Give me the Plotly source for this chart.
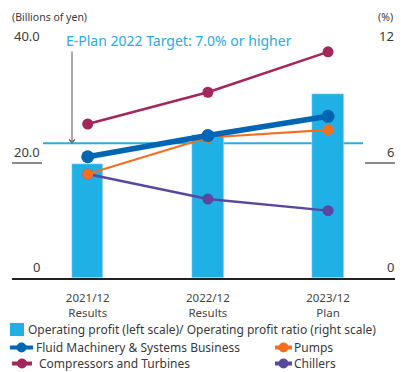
import plotly.graph_objects as go

# ---- data -------------------------------------------------------------
periods = ["2021/12", "2022/12", "2023/12"]
period_notes = ["Results", "Results", "Plan"]
operating_profit = [19.7, 24.8, 31.9]        # billions of yen (left scale)
ratio_fluid = [6.3, 7.4, 8.4]                # % (right scale)
ratio_pumps = [5.4, 7.3, 7.7]
ratio_compressors = [8.0, 9.65, 11.75]
ratio_chillers = [5.4, 4.1, 3.5]
target_ratio = 7.0
left_ticks = [0, 20, 40]
left_tick_text = ["0", "20.0", "40.0"]
right_ticks = [0, 6, 12]
right_tick_text = ["0", "6", "12"]
legend_labels = [
    "Operating profit (left scale)/ Operating profit ratio (right scale)",
    "Fluid Machinery & Systems Business",
    "Pumps",
    "Compressors and Turbines",
    "Chillers",
]

# ---- styling ----------------------------------------------------------
FONT = "Noto Sans"
TEXT = "#3a3a3a"
BAR = "#1fb0e6"
C_FLUID = "#0065b3"
C_PUMPS = "#f26f21"
C_COMP = "#a3275a"
C_CHILL = "#5a48a0"
TARGET = "#2aabe2"

W, H = 401, 372
L, R, T, B = 12, 6, 47, 94
PW, PH = W - L - R, H - T - B


def px(x):
    """pixel column -> paper x"""
    return (x - L) / PW


def py(y):
    """pixel row -> paper y"""
    return (H - B - y) / PH


xs = list(range(len(periods)))
fig = go.Figure()

fig.add_trace(go.Bar(x=xs, y=operating_profit, marker_color=BAR, width=0.26,
                     name=legend_labels[0], yaxis="y"))

for vals, color, lw, ms, name in [
    (ratio_chillers, C_CHILL, 2.5, 11, legend_labels[4]),
    (ratio_pumps, C_PUMPS, 2.2, 11, legend_labels[2]),
    (ratio_compressors, C_COMP, 2.5, 11, legend_labels[3]),
    (ratio_fluid, C_FLUID, 5.5, 13, legend_labels[1]),
]:
    fig.add_trace(go.Scatter(x=xs, y=vals, mode="lines+markers", yaxis="y2",
                             line=dict(color=color, width=lw),
                             marker=dict(color=color, size=ms),
                             name=name, cliponaxis=False))

shapes = []
annotations = []

# target reference line and its caption
shapes.append(dict(type="line", xref="paper", yref="y2", x0=px(43), x1=px(363),
                   y0=target_ratio, y1=target_ratio, line=dict(color=TARGET, width=2),
                   layer="below"))
annotations.append(dict(xref="paper", yref="y2", x=px(72), y=target_ratio, text="",
                        showarrow=True, axref="pixel", ayref="pixel", ax=0,
                        ay=-(T + (1 - target_ratio / right_ticks[-1]) * PH - 50),
                        arrowhead=4, arrowsize=1.1, arrowwidth=1, arrowcolor="#555"))
annotations.append(dict(xref="paper", yref="paper", x=px(64), y=py(40),
                        xanchor="left", yanchor="middle",
                        text=f"E-Plan 2022 Target: {target_ratio:.1f}% or higher",
                        showarrow=False, font=dict(family=FONT, size=14, color=TARGET)))

# axis titles
annotations.append(dict(xref="paper", yref="paper", x=px(10), y=py(17), xanchor="left",
                        yanchor="middle", text="(Billions of yen)", showarrow=False,
                        font=dict(family=FONT, size=10.5, color=TEXT)))
annotations.append(dict(xref="paper", yref="paper", x=px(395), y=py(17), xanchor="right",
                        yanchor="middle", text="(%)", showarrow=False,
                        font=dict(family=FONT, size=10.5, color=TEXT)))

# tick labels sitting above the tick strokes
for v, t in zip(left_ticks, left_tick_text):
    annotations.append(dict(xref="paper", yref="y", x=px(42), y=v, xanchor="right",
                            yanchor="bottom", text=t, showarrow=False,
                            font=dict(family=FONT, size=13, color=TEXT)))
for v, t in zip(right_ticks, right_tick_text):
    annotations.append(dict(xref="paper", yref="y2", x=px(396), y=v, xanchor="right",
                            yanchor="bottom", text=t, showarrow=False,
                            font=dict(family=FONT, size=13, color=TEXT)))

# legend
LEG_FONT = dict(family=FONT, size=12, color=TEXT)
shapes.append(dict(type="rect", xref="paper", yref="paper", x0=px(10), x1=px(24),
                   y0=py(336), y1=py(323), fillcolor=BAR, line=dict(width=0)))
annotations.append(dict(xref="paper", yref="paper", x=px(27), y=py(329.5), xanchor="left",
                        yanchor="middle", text=legend_labels[0], showarrow=False,
                        font=LEG_FONT, borderpad=0))
for (x0, x1, tx, yy, color, label) in [
    (10, 33, 35, 347.5, C_FLUID, legend_labels[1]),
    (275, 292, 293, 347.5, C_PUMPS, legend_labels[2]),
    (12, 32, 38, 363.5, C_COMP, legend_labels[3]),
    (275, 292, 293, 363.5, C_CHILL, legend_labels[4]),
]:
    shapes.append(dict(type="line", xref="paper", yref="paper", x0=px(x0), x1=px(x1),
                       y0=py(yy), y1=py(yy), line=dict(color=color, width=4)))
    cx = (x0 + x1) / 2
    shapes.append(dict(type="circle", xref="paper", yref="paper", x0=px(cx - 5),
                       x1=px(cx + 5), y0=py(yy + 5), y1=py(yy - 5), fillcolor=color,
                       line=dict(width=0)))
    annotations.append(dict(xref="paper", yref="paper", x=px(tx), y=py(yy),
                            xanchor="left", yanchor="middle", text=label,
                            showarrow=False, font=LEG_FONT, borderpad=0))

fig.update_layout(
    width=W, height=H, margin=dict(l=L, r=R, t=T, b=B),
    paper_bgcolor="white", plot_bgcolor="white", showlegend=False,
    font=dict(family=FONT, color=TEXT),
    bargap=0,
    xaxis=dict(range=[-0.63, 2.557], tickvals=xs,
               ticktext=[f"{p}<br>{n}" for p, n in zip(periods, period_notes)],
               tickfont=dict(family=FONT, size=11.5, color="#444"),
               ticklabelstandoff=8,
               showline=True, linecolor="#222", linewidth=1.5, ticks="",
               showgrid=False, zeroline=False, fixedrange=True),
    yaxis=dict(range=[left_ticks[0], left_ticks[-1]], tickvals=left_ticks[1:],
               ticks="inside", ticklen=30, tickwidth=1.5, tickcolor="#8a8a8a",
               showticklabels=False, showgrid=False, zeroline=False, showline=False),
    yaxis2=dict(range=[right_ticks[0], right_ticks[-1]], tickvals=right_ticks[1:],
                overlaying="y", side="right",
                ticks="inside", ticklen=30, tickwidth=1.5, tickcolor="#8a8a8a",
                showticklabels=False, showgrid=False, zeroline=False, showline=False),
    shapes=shapes, annotations=annotations,
)

fig.write_html("out.html")
